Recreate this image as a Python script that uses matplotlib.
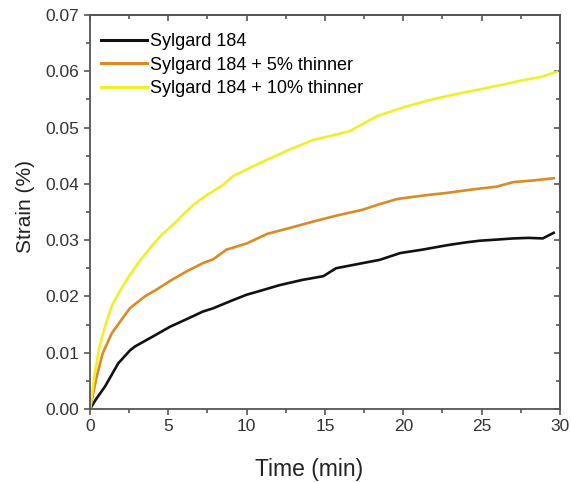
import numpy as np
import matplotlib
matplotlib.use("Agg")
import matplotlib.pyplot as plt
from matplotlib.ticker import MultipleLocator

plt.rcParams['font.family'] = ['Liberation Sans', 'DejaVu Sans']

# values
t_black = [0.0, 0.4, 0.96, 1.8, 2.55, 2.87, 3.9, 5.1, 6.2, 7.2, 7.87, 9.0, 10.0, 11.0, 12.1, 13.5,
           14.9, 15.7, 17.0, 18.5, 19.8, 21.2, 22.8, 24.0, 24.9, 26.0, 27.0, 28.0, 28.9, 29.6]
y_black = [0.0, 0.0018, 0.0040, 0.0081, 0.0104, 0.0111, 0.0127, 0.0146, 0.0160, 0.0173, 0.0179, 0.0192, 0.0203,
           0.0211, 0.0220, 0.0229, 0.0236, 0.0250, 0.0257, 0.0265, 0.0277, 0.0283, 0.0291, 0.0296, 0.0299,
           0.0301, 0.0303, 0.0304, 0.0303, 0.0313]

t_orange = [0.0, 0.43, 0.8, 1.38, 2.23, 2.55, 3.5, 4.3, 5.2, 6.2, 7.2, 7.87, 8.7, 10.0, 11.3, 12.8,
            14.25, 15.8, 17.4, 18.5, 19.6, 21.2, 22.8, 24.4, 25.95, 27.0, 28.3, 29.6]
y_orange = [0.0, 0.0058, 0.0098, 0.0134, 0.0167, 0.0179, 0.0200, 0.0213, 0.0229, 0.0245, 0.0259, 0.0266,
            0.0283, 0.0294, 0.0311, 0.0322, 0.0333, 0.0344, 0.0354, 0.0364, 0.0373, 0.0379, 0.0384,
            0.0390, 0.0395, 0.0403, 0.0406, 0.0410]

t_yellow = [0.0, 0.3, 0.6, 1.0, 1.4, 2.0, 2.5, 3.2, 3.9, 4.6, 5.4, 6.0, 6.7, 7.45, 8.5, 9.15,
            10.85, 12.5, 14.25, 15.5, 16.6, 18.3, 20.0, 21.7, 23.3, 24.9, 26.3, 27.6, 28.8, 29.8]
y_yellow = [0.0, 0.0062, 0.0110, 0.0150, 0.0184, 0.0214, 0.0236, 0.0264, 0.0288, 0.0310, 0.0330, 0.0347,
            0.0365, 0.0380, 0.0398, 0.0414, 0.0437, 0.0458, 0.0478, 0.0486, 0.0494, 0.0520, 0.0536,
            0.0549, 0.0559, 0.0568, 0.0576, 0.0584, 0.0590, 0.0599]

labels = ['Sylgard 184', 'Sylgard 184 + 5% thinner', 'Sylgard 184 + 10% thinner']
colors = ['#111111', '#DA8B24', '#EEF02A']

fig = plt.figure(figsize=(5.71, 4.82), dpi=100)
ax = fig.add_axes([0.1576, 0.1515, 0.8231, 0.8174])

ax.plot(t_black, y_black, color=colors[0], lw=1.9, label=labels[0])
ax.plot(t_orange, y_orange, color=colors[1], lw=1.9, label=labels[1])
ax.plot(t_yellow, y_yellow, color=colors[2], lw=1.9, label=labels[2])

ax.set_xlim(0, 30)
ax.set_ylim(0, 0.07)
ax.xaxis.set_major_locator(MultipleLocator(5))
ax.xaxis.set_minor_locator(MultipleLocator(2.5))
ax.yaxis.set_major_locator(MultipleLocator(0.01))
ax.yaxis.set_minor_locator(MultipleLocator(0.005))
ax.yaxis.set_major_formatter(matplotlib.ticker.FormatStrFormatter('%.2f'))

ax.tick_params(which='both', direction='out', top=False, right=False, colors='#555555',
               labelcolor='#333333', labelsize=12.5)
ax.tick_params(which='major', length=4, width=1.2)
ax.tick_params(which='minor', length=3, width=1.2)

# mirrored inward ticks on top and right
axt = ax.secondary_xaxis('top')
axt.xaxis.set_major_locator(MultipleLocator(5))
axt.xaxis.set_minor_locator(MultipleLocator(2.5))
axt.tick_params(which='both', direction='in', labeltop=False, colors='#555555', width=1.2)
axt.tick_params(which='major', length=4)
axt.tick_params(which='minor', length=3)
axr = ax.secondary_yaxis('right')
axr.yaxis.set_major_locator(MultipleLocator(0.01))
axr.yaxis.set_minor_locator(MultipleLocator(0.005))
axr.tick_params(which='both', direction='in', labelright=False, colors='#555555', width=1.2)
axr.tick_params(which='major', length=4)
axr.tick_params(which='minor', length=3)
for s in list(ax.spines.values()) + [axt.spines['top'], axr.spines['right']]:
    s.set_color('#555555')
    s.set_linewidth(1.3)

ax.set_xlabel('Time (min)', fontsize=16.5, color='#222222')
ax.set_ylabel('Strain (%)', fontsize=15, color='#222222')
ax.xaxis.set_label_coords(0.466, -0.125)
ax.yaxis.set_label_coords(-0.117, 0.513)

leg = ax.legend(loc='upper left', frameon=False, fontsize=13, handlelength=2.5,
                handletextpad=0.2, labelspacing=0.36, borderaxespad=0.0,
                bbox_to_anchor=(0.009, 0.972))
for h in leg.get_lines():
    h.set_linewidth(2.2)

fig.savefig('out.png', dpi=100)
